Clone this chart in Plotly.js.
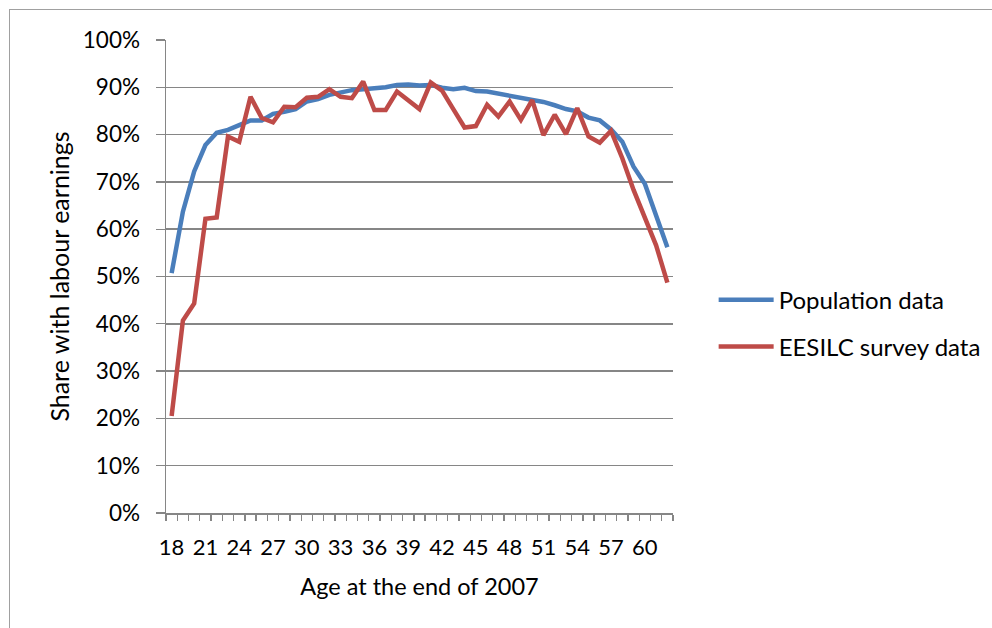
<!DOCTYPE html>
<html>
<head>
<meta charset="utf-8">
<script src="https://cdn.plot.ly/plotly-3.0.1.min.js"></script>
<style>
  html, body { margin: 0; padding: 0; background: #fff; overflow: hidden; }
  #chart { width: 992px; height: 628px; }
  #frame { position: absolute; left: 9px; top: 9px; width: 1000px; height: 700px;
           border: 1.5px solid #a0a0a0; pointer-events: none; }
</style>
</head>
<body>
<div id="chart"></div>
<div id="frame"></div>
<script>
// Ages (end of 2007)
const ages = [18,19,20,21,22,23,24,25,26,27,28,29,30,31,32,33,34,35,36,37,38,39,40,
              41,42,43,44,45,46,47,48,49,50,51,52,53,54,55,56,57,58,59,60,61,62];

// Share with labour earnings — population data
const populationData = [0.507,0.637,0.722,0.778,0.804,0.810,0.820,0.830,0.830,0.844,0.848,0.854,
                        0.870,0.875,0.884,0.889,0.894,0.896,0.897,0.900,0.905,0.906,0.904,
                        0.905,0.899,0.896,0.899,0.892,0.891,0.887,0.883,0.879,0.875,0.869,0.862,
                        0.854,0.849,0.836,0.830,0.811,0.785,0.732,0.696,0.627,0.562];

// Share with labour earnings — EESILC survey data
const surveyData = [0.205,0.407,0.443,0.622,0.625,0.796,0.785,0.880,0.835,0.826,0.859,0.858,
                    0.878,0.880,0.896,0.880,0.877,0.912,0.852,0.852,0.891,0.873,0.854,
                    0.910,0.893,0.854,0.815,0.818,0.863,0.838,0.870,0.831,0.873,0.799,0.842,
                    0.801,0.856,0.796,0.783,0.808,0.750,0.683,0.627,0.566,0.487];

const xTickVals = [18,21,24,27,30,33,36,39,42,45,48,51,54,57,60];
const xTickText = ["18","21","24","27","30","33","36","39","42","45","48","51","54","57","60"];
const yTickVals = [0,0.1,0.2,0.3,0.4,0.5,0.6,0.7,0.8,0.9,1.0];
const yTickText = ["0%","10%","20%","30%","40%","50%","60%","70%","80%","90%","100%"];

const FONT = "Lato, 'Open Sans', sans-serif";
const GRID = "#868686";

const traces = [
  { x: ages, y: populationData, type: "scatter", mode: "lines", name: "Population data",
    line: { color: "#4a7ebb", width: 4.5 }, legend: "legend" },
  { x: ages, y: surveyData, type: "scatter", mode: "lines", name: "EESILC survey data",
    line: { color: "#be4b48", width: 4.5 }, legend: "legend2" }
];

const layout = {
  width: 992, height: 628,
  margin: { l: 166, r: 319, t: 40, b: 115 },
  paper_bgcolor: "#fff", plot_bgcolor: "#fff",
  font: { family: FONT, size: 22, color: "#000" },
  showlegend: true,
  xaxis: {
    range: [17.5, 62.5], tickmode: "array", tickvals: xTickVals, ticktext: xTickText,
    ticks: "", ticklabelstandoff: 14, showgrid: false, zeroline: false,
    showline: true, linecolor: GRID, linewidth: 1.5,
    minor: { tick0: 17.5, dtick: 1, ticks: "outside", ticklen: 6, tickcolor: GRID, tickwidth: 1.3, showgrid: false },
    tickfont: { family: FONT, size: 22 },
    title: { text: "Age at the end of 2007", font: { family: FONT, size: 23.5 }, standoff: 19 }
  },
  yaxis: {
    range: [0, 1], tickmode: "array", tickvals: yTickVals, ticktext: yTickText,
    ticks: "outside", ticklen: 9, tickcolor: GRID, tickwidth: 1.3,
    showgrid: true, gridcolor: GRID, gridwidth: 1.5, zeroline: false,
    showline: true, linecolor: GRID, linewidth: 1.5,
    ticklabelstandoff: 11,
    tickfont: { family: FONT, size: 22.5 },
    title: { text: "Share with labour earnings", font: { family: FONT, size: 25 }, standoff: 6 }
  },
  legend: { xref: "container", yref: "container", x: 0.7194, xanchor: "left", y: 0.522, yanchor: "middle",
            bgcolor: "rgba(0,0,0,0)", font: { family: FONT, size: 24 }, itemwidth: 55 },
  legend2: { xref: "container", yref: "container", x: 0.7194, xanchor: "left", y: 0.4475, yanchor: "middle",
             bgcolor: "rgba(0,0,0,0)", font: { family: FONT, size: 24 }, itemwidth: 55 }
};

Plotly.newPlot("chart", traces, layout, { displayModeBar: false, staticPlot: true });
</script>
</body>
</html>
